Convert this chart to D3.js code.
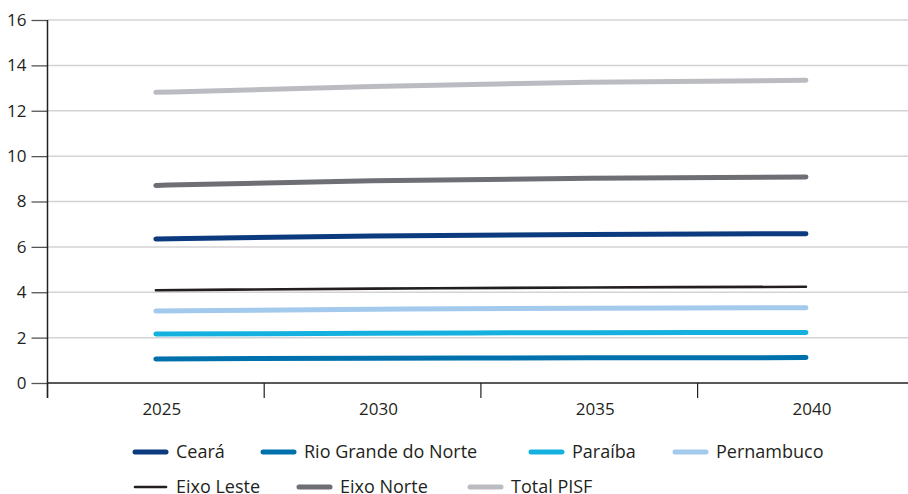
<!DOCTYPE html>
<html>
<head>
<meta charset="utf-8">
<title>Demanda por estado e eixo</title>
<style>
  body { margin: 0; background: #fff; }
  svg text { font-family: "Open Sans", "Noto Sans", sans-serif; fill: #231f20; }
</style>
</head>
<body>
<script src="https://cdn.jsdelivr.net/npm/d3@7"></script>
<script>

// data
var years = ["2025", "2030", "2035", "2040"];
var yTicks = [0, 2, 4, 6, 8, 10, 12, 14, 16];

var ceara       = [6.35, 6.48, 6.55, 6.58];
var rioGrande   = [1.06, 1.09, 1.11, 1.12];
var paraiba     = [2.16, 2.19, 2.22, 2.23];
var pernambuco  = [3.17, 3.25, 3.30, 3.32];
var eixoLeste   = [4.09, 4.16, 4.21, 4.24];
var eixoNorte   = [8.71, 8.92, 9.02, 9.08];
var totalPisf   = [12.81, 13.07, 13.26, 13.34];

var seriesNames = ["Ceará", "Rio Grande do Norte", "Paraíba", "Pernambuco",
                   "Eixo Leste", "Eixo Norte", "Total PISF"];
var seriesValues = [ceara, rioGrande, paraiba, pernambuco, eixoLeste, eixoNorte, totalPisf];

var colors = ["#0b3a7e", "#0071ad", "#14b1e0", "#a3c9ec", "#231f20", "#6e6f74", "#bbbcc1"];
var widths = [5, 5, 5, 5, 2.6, 5, 5];

// legend layout (row, x start)
var legendPos = [[0, 133], [0, 261], [0, 529], [0, 673], [1, 133], [1, 297], [1, 468]];

var W = 908, H = 494;
var plotLeft = 47.5, plotTop = 20, plotBottom = 383, band = 216.7;

var svg = d3.select("body").append("svg")
    .attr("width", W)
    .attr("height", H);

var x = d3.scaleBand().domain(years).range([plotLeft, plotLeft + band * years.length]).padding(0);
var y = d3.scaleLinear().domain([0, 16]).range([plotBottom, plotTop]);

// gridlines
svg.append("g")
  .selectAll("line")
  .data(yTicks.filter(function(d) { return d > 0; }))
  .join("line")
    .attr("x1", plotLeft)
    .attr("x2", W)
    .attr("y1", function(d) { return y(d); })
    .attr("y2", function(d) { return y(d); })
    .style("stroke", "#d3d3d3")
    .style("stroke-width", 1.5);

// y axis
var yAxis = svg.append("g")
    .attr("transform", "translate(" + plotLeft + ",0)")
    .call(d3.axisLeft(y).tickValues(yTicks).tickSize(16).tickPadding(5));
yAxis.select(".domain").remove();
yAxis.selectAll(".tick line").style("stroke", "#555").style("stroke-width", 1.3);
yAxis.selectAll(".tick text")
    .style("font-size", "17px")
    .style("font-family", "'Open Sans', sans-serif")
    .style("fill", "#231f20");
svg.append("line")
    .attr("x1", plotLeft).attr("x2", plotLeft)
    .attr("y1", plotTop).attr("y2", plotBottom + 15)
    .style("stroke", "#231f20")
    .style("stroke-width", 1.5);

// x axis: ticks at band edges, labels in band centres
var xAxis = svg.append("g")
    .attr("transform", "translate(0," + plotBottom + ")");
xAxis.append("line")
    .attr("x1", plotLeft).attr("x2", W)
    .style("stroke", "#231f20")
    .style("stroke-width", 1.5);
xAxis.selectAll("line.tk")
  .data(years)
  .join("line")
    .attr("class", "tk")
    .attr("x1", function(d) { return x(d); })
    .attr("x2", function(d) { return x(d); })
    .attr("y1", 0)
    .attr("y2", 15)
    .style("stroke", "#231f20")
    .style("stroke-width", 1.2);
xAxis.selectAll("text")
  .data(years)
  .join("text")
    .attr("x", function(d) { return x(d) + x.bandwidth() / 2 + 6; })
    .attr("y", 32)
    .attr("text-anchor", "middle")
    .style("font-size", "17px")
    .text(function(d) { return d; });

// lines
var line = d3.line()
    .x(function(d, i) { return x(years[i]) + x.bandwidth() / 2; })
    .y(function(d) { return y(d); })
    .curve(d3.curveMonotoneX);

svg.append("g")
  .selectAll("path")
  .data(seriesValues)
  .join("path")
    .attr("d", line)
    .style("fill", "none")
    .style("stroke", function(d, i) { return colors[i]; })
    .style("stroke-width", function(d, i) { return widths[i]; })
    .style("stroke-linecap", "round");

// legend
var legendRows = [452, 487];
var legend = svg.append("g")
  .selectAll("g")
  .data(seriesNames)
  .join("g")
    .attr("transform", function(d, i) {
      return "translate(" + legendPos[i][1] + "," + legendRows[legendPos[i][0]] + ")";
    });
legend.append("line")
    .attr("x1", 2).attr("x2", 33)
    .style("stroke", function(d, i) { return colors[i]; })
    .style("stroke-width", function(d, i) { return widths[i]; })
    .style("stroke-linecap", "round");
legend.append("text")
    .attr("x", 43)
    .attr("dy", "0.35em")
    .style("font-size", "18px")
    .text(function(d) { return d; });

</script>
</body>
</html>
